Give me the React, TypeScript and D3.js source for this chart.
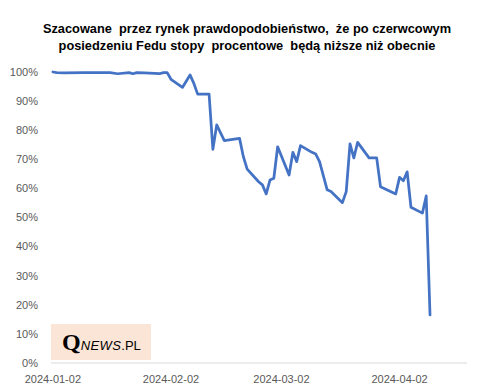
import React, { useRef, useEffect } from 'react';
import * as d3 from 'd3';

const titleLines = [
  'Szacowane  przez rynek prawdopodobieństwo,  że po czerwcowym',
  'posiedzeniu Fedu stopy  procentowe  będą niższe niż obecnie',
];

const dates = [
  '2024-01-02', '2024-01-03', '2024-01-05', '2024-01-10', '2024-01-17', '2024-01-19',
  '2024-01-22', '2024-01-23', '2024-01-24', '2024-01-26', '2024-01-30', '2024-01-31',
  '2024-02-01', '2024-02-02', '2024-02-05', '2024-02-07', '2024-02-08', '2024-02-09',
  '2024-02-12', '2024-02-13', '2024-02-14', '2024-02-16', '2024-02-20', '2024-02-21',
  '2024-02-22', '2024-02-25', '2024-02-26', '2024-02-27', '2024-02-28', '2024-02-29',
  '2024-03-01', '2024-03-04', '2024-03-05', '2024-03-06', '2024-03-07', '2024-03-10',
  '2024-03-11', '2024-03-12', '2024-03-14', '2024-03-15', '2024-03-18', '2024-03-19',
  '2024-03-20', '2024-03-21', '2024-03-22', '2024-03-25', '2024-03-27', '2024-03-28',
  '2024-04-01', '2024-04-02', '2024-04-03', '2024-04-04', '2024-04-05', '2024-04-08',
  '2024-04-09', '2024-04-10',
];

const probability = [
  100, 99.8, 99.7, 99.8, 99.8, 99.4,
  99.8, 99.4, 99.8, 99.7, 99.4, 99.8,
  99.8, 97.5, 94.7, 99.0, 96.1, 92.4,
  92.4, 73.4, 81.8, 76.4, 77.2, 70.9,
  66.6, 62.3, 61.2, 58.1, 62.9, 63.5,
  74.3, 64.6, 72.4, 69.2, 74.7, 72.4,
  71.8, 69.2, 59.5, 58.9, 55.1, 58.9,
  75.3, 70.5, 75.8, 70.5, 70.5, 60.6,
  58.1, 63.8, 62.6, 65.7, 53.5, 51.5,
  57.4, 16.5,
];

const yTicks = [0, 10, 20, 30, 40, 50, 60, 70, 80, 90, 100];
const xTickLabels = ['2024-01-02', '2024-02-02', '2024-03-02', '2024-04-02'];

const W = 480;
const H = 392;

export default function App() {
  const svgRef = useRef<SVGSVGElement>(null);

  useEffect(() => {
    if (!svgRef.current) return;
    const svg = d3.select(svgRef.current);
    svg.selectAll('*').remove();

    const parse = d3.timeParse('%Y-%m-%d');
    const data = dates.map((d, i) => ({ date: parse(d) as Date, value: probability[i] }));

    const x = d3.scaleTime()
      .domain([new Date(2024, 0, 1, 12), new Date(2024, 3, 19, 17)])
      .range([51, 467]);
    const y = d3.scaleLinear().domain([0, 100]).range([363, 72]);

    svg.append('rect').attr('width', W).attr('height', H).attr('fill', '#fff');

    // title
    const title = svg.append('text')
      .attr('text-anchor', 'middle')
      .attr('font-family', "'Liberation Sans', Arial, sans-serif")
      .attr('font-weight', 'bold')
      .attr('font-size', 12.8)
      .attr('fill', '#000')
      .style('white-space', 'pre');
    titleLines.forEach((t, i) => {
      title.append('tspan').attr('x', 247).attr('y', 33 + i * 17).text(t);
    });

    // y axis labels
    svg.append('g')
      .selectAll('text')
      .data(yTicks)
      .join('text')
      .attr('x', 38)
      .attr('y', d => y(d))
      .attr('dy', '0.35em')
      .attr('text-anchor', 'end')
      .attr('font-family', "'Liberation Sans', Arial, sans-serif")
      .attr('font-size', 11)
      .attr('fill', '#595959')
      .text(d => `${d}%`);

    // x axis line
    svg.append('line')
      .attr('x1', 51).attr('x2', 467)
      .attr('y1', y(0)).attr('y2', y(0))
      .attr('stroke', '#d9d9d9')
      .attr('stroke-width', 1);

    svg.append('g')
      .selectAll('text')
      .data(xTickLabels)
      .join('text')
      .attr('x', d => x(parse(d) as Date))
      .attr('y', 383)
      .attr('text-anchor', 'middle')
      .attr('font-family', "'Liberation Sans', Arial, sans-serif")
      .attr('font-size', 11)
      .attr('fill', '#595959')
      .text(d => d);

    // logo
    const logo = svg.append('g');
    logo.append('rect')
      .attr('x', 51).attr('y', 324).attr('width', 100).attr('height', 36)
      .attr('fill', '#fbe5d6');
    const lt = logo.append('text').attr('x', 62).attr('y', 350).attr('fill', '#000');
    lt.append('tspan')
      .attr('font-family', "'Liberation Serif', 'DejaVu Serif', serif")
      .attr('font-weight', 'bold')
      .attr('font-size', 24)
      .text('Q');
    lt.append('tspan')
      .attr('font-family', "'Liberation Sans', Arial, sans-serif")
      .attr('font-style', 'italic')
      .attr('font-size', 13)
      .attr('letter-spacing', 0.4)
      .text('NEWS');
    lt.append('tspan')
      .attr('font-family', "'Liberation Sans', Arial, sans-serif")
      .attr('font-size', 13)
      .attr('letter-spacing', 0)
      .text('.PL');

    // line
    const line = d3.line<{ date: Date; value: number }>()
      .x(d => x(d.date))
      .y(d => y(d.value));
    svg.append('path')
      .datum(data)
      .attr('fill', 'none')
      .attr('stroke', '#4472c4')
      .attr('stroke-width', 2.75)
      .attr('stroke-linejoin', 'round')
      .attr('stroke-linecap', 'round')
      .attr('d', line);
  }, []);

  return (
    <div style={{ position: 'fixed', left: 0, top: 0 }}>
      <svg ref={svgRef} width={W} height={H}></svg>
    </div>
  );
}
